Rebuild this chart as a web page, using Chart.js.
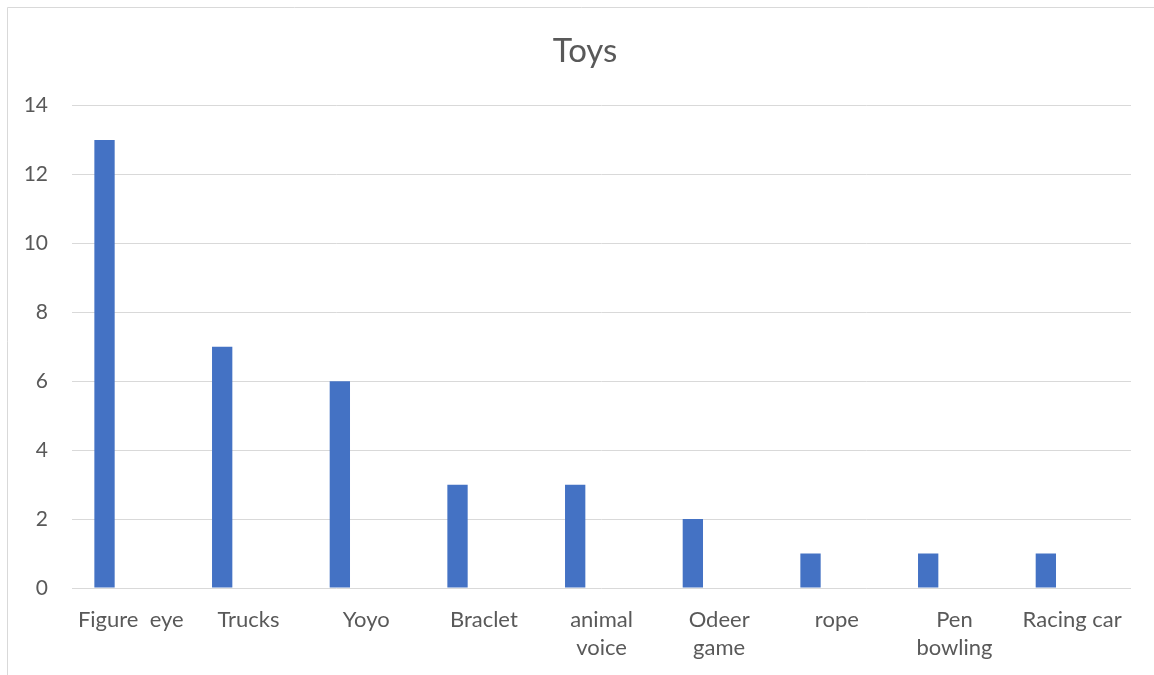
<!DOCTYPE html>
<html>
<head>
<meta charset="utf-8">
<script src="https://cdn.jsdelivr.net/npm/chart.js@4/dist/chart.umd.min.js"></script>
<style>
  html, body { margin: 0; padding: 0; background: #ffffff; }
  #wrap { width: 1154px; height: 675px; position: relative; }
</style>
</head>
<body>
<div id="wrap"><canvas id="toys" width="1154" height="675"></canvas></div>
<script>
// Toy counts by category
const categories = [
  ['Figure  eye'], ['Trucks'], ['Yoyo'], ['Braclet'], ['animal', 'voice'],
  ['Odeer', 'game'], ['rope'], ['Pen', 'bowling'], ['Racing car']
];
const toyCounts = [13, 7, 6, 3, 3, 2, 1, 1, 1];
// Two further series columns of the sheet are empty; they still take their slots in each group
const emptySeriesB = [null, null, null, null, null, null, null, null, null];
const emptySeriesC = [null, null, null, null, null, null, null, null, null];
const yTicks = [0, 2, 4, 6, 8, 10, 12, 14];

const textColor = '#595959';
const gridColor = '#d9d9d9';
const barColor = '#4472C4';
const fontFamily = 'Lato, "Open Sans", "Noto Sans", sans-serif';

// White background plus the outer chart frame (top and left edges)
const framePlugin = {
  id: 'frame',
  beforeDraw(chart) {
    const ctx = chart.ctx;
    ctx.save();
    ctx.fillStyle = '#ffffff';
    ctx.fillRect(0, 0, chart.width, chart.height);
    ctx.strokeStyle = gridColor;
    ctx.lineWidth = 1;
    ctx.beginPath();
    ctx.moveTo(7.5, chart.height + 2);
    ctx.lineTo(7.5, 7.5);
    ctx.lineTo(chart.width + 2, 7.5);
    ctx.stroke();
    ctx.restore();
  }
};

new Chart(document.getElementById('toys'), {
  type: 'bar',
  data: {
    labels: categories,
    datasets: [
      { label: 'Toys', data: toyCounts, backgroundColor: barColor, borderWidth: 0, yAxisID: 'y' },
      { label: 'B', data: emptySeriesB, backgroundColor: barColor, yAxisID: 'y' },
      { label: 'C', data: emptySeriesC, backgroundColor: barColor, yAxisID: 'y' }
    ]
  },
  options: {
    responsive: false,
    animation: false,
    devicePixelRatio: 1,
    categoryPercentage: 0.671,
    barPercentage: 0.772,
    layout: { padding: { left: 16, right: 0, top: 0, bottom: 0 } },
    plugins: {
      legend: { display: false },
      tooltip: { enabled: false },
      title: {
        display: true,
        text: 'Toys',
        color: textColor,
        font: { family: fontFamily, size: 33, weight: 'normal', lineHeight: 1.2 },
        padding: { top: 32, bottom: 34 }
      }
    },
    scales: {
      x: {
        grid: { display: false, drawTicks: false },
        border: { display: false },
        ticks: {
          color: textColor,
          font: { family: fontFamily, size: 22, lineHeight: 1.28 },
          padding: 18,
          maxRotation: 0,
          autoSkip: false
        },
        afterFit(scale) { scale.height = 87; }
      },
      y: {
        min: 0,
        max: 14,
        grid: { color: gridColor, lineWidth: 1, drawTicks: false },
        border: { display: false },
        afterBuildTicks(scale) { scale.ticks = yTicks.map(v => ({ value: v })); },
        ticks: {
          color: textColor,
          font: { family: fontFamily, size: 21 },
          padding: 24
        },
        afterFit(scale) { scale.width = 56; }
      },
      // blank right-hand margin inside the frame
      yMargin: {
        position: 'right',
        display: true,
        grid: { display: false, drawTicks: false },
        border: { display: false },
        ticks: { display: false },
        afterFit(scale) { scale.width = 23; }
      }
    }
  },
  plugins: [framePlugin]
});
</script>
</body>
</html>
